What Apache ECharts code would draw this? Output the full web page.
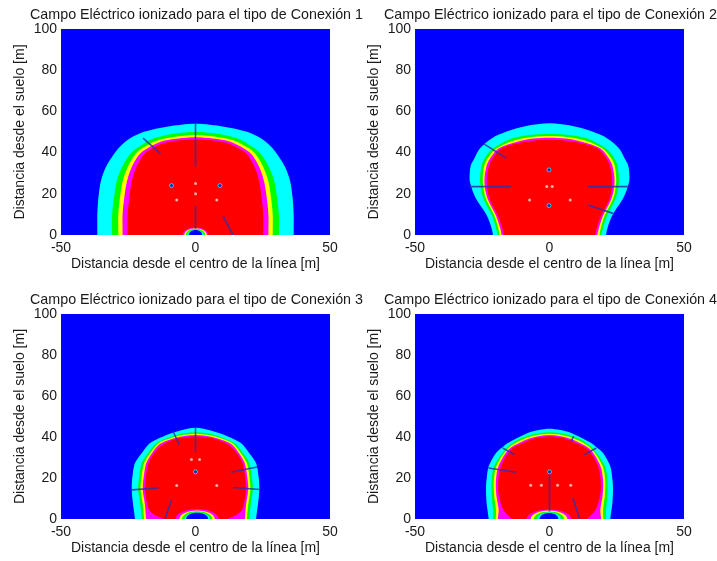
<!DOCTYPE html>
<html><head><meta charset="utf-8">
<script src="https://cdn.jsdelivr.net/npm/echarts@6/dist/echarts.min.js"></script>
<style>html,body{margin:0;padding:0;background:#fff}#c{width:717px;height:561px}</style>
</head><body><div id="c"></div>
<script>
// ---------------- data ----------------
const titles = [
  'Campo Eléctrico ionizado para el tipo de Conexión 1',
  'Campo Eléctrico ionizado para el tipo de Conexión 2',
  'Campo Eléctrico ionizado para el tipo de Conexión 3',
  'Campo Eléctrico ionizado para el tipo de Conexión 4'
];
const xName = 'Distancia desde el centro de la línea [m]';
const yName = 'Distancia desde el suelo [m]';
const xRange = [-50, 50];
const yRange = [0, 100];

// band colours (outer to inner) and hole-ring colours (outer to inner)
const bandColors = ['#00FFFF', '#00FF00', '#FFFF00', '#FF00FF', '#FF0000'];
const holeColors = ['#FF00FF', '#FFFF00', '#00FF00', '#00FFFF', '#0000FF'];

// left-half outer boundaries [x, y] of each band, bottom to top (mirrored)
const p1Cyan    = [[-36.5,0],[-36.5,10],[-36.1,18],[-35.2,26],[-33.3,33],[-30.5,39],[-28,43],[-24.3,47],[-18.8,50.2],[-10.7,52.6],[0,54]];
const p1Green   = [[-31,0],[-31,10],[-30.3,18],[-29.3,26],[-27.3,33],[-24.5,39],[-21.5,42.5],[-15.7,46.9],[-8,49.2],[0,50]];
const p1Yellow  = [[-28.7,0],[-28.7,10],[-28.1,18],[-27.1,26],[-25.2,33],[-22.5,39],[-19.7,42.2],[-14,46],[-7,47.8],[0,48.5]];
const p1Magenta = [[-27.1,0],[-27.1,10],[-26.5,18],[-25.5,26],[-23.7,33],[-21,39],[-18.3,41.8],[-13,45.3],[-6.5,46.8],[0,47.4]];
const p1Red     = [[-25.2,0],[-25.2,10],[-24.6,18],[-23.7,26],[-22,33],[-19.3,39],[-16.8,41.5],[-12,44.5],[-6,46],[0,46.4]];

const p2Cyan    = [[-21,0],[-21.7,4],[-23.4,9.7],[-27.4,17.8],[-29.6,25.9],[-29.6,31],[-29.2,34],[-28.2,36.5],[-25.8,42.1],[-21.5,46.9],[-15.9,50.2],[-9,52.8],[0,54.2]];
const p2Green   = [[-19.3,0],[-20,4],[-21.5,9.7],[-24.6,17.8],[-25.8,25.9],[-25.2,34],[-23.5,38.5],[-20.9,42.1],[-14.1,46.9],[-7,48.6],[0,49]];
const p2Yellow  = [[-18.6,0],[-19.2,4],[-20.6,9.7],[-23.7,17.8],[-24.8,25.9],[-24.2,34],[-22.3,38.5],[-19.6,42.1],[-13,46],[-6.5,47.6],[0,48]];
const p2Magenta = [[-17.8,0],[-18.5,4],[-20,9.7],[-23.1,17.8],[-24.2,25.9],[-23.3,34],[-21.4,38.5],[-18.8,42.1],[-12,45.3],[-6,46.8],[0,47.2]];
const p2Red     = [[-17,0],[-17.7,4],[-19.3,9.7],[-22.4,17.8],[-23.3,25.9],[-22.4,34],[-20.5,38.5],[-17.8,42.1],[-11,44.8],[-5.5,45.9],[0,46.2]];

const p3Cyan    = [[-22.5,0],[-23.3,8],[-23.7,14.3],[-23.5,20],[-22.5,27.3],[-19.8,32.5],[-16.9,37.1],[-12,40.3],[-6,43],[0,44.5]];
const p3Green   = [[-20,0],[-20.5,7],[-21.3,14.3],[-21,20],[-20,27.3],[-17.5,32.5],[-14.4,37.1],[-7,41],[0,42.3]];
const p3Yellow  = [[-19.1,0],[-19.6,7],[-20.4,14.3],[-20.1,20],[-19.1,27.3],[-16.7,32.5],[-13.6,37.1],[-6.5,40.5],[0,41.6]];
const p3Magenta = [[-18.4,0],[-18.8,7],[-19.6,14.3],[-19.3,20],[-18.3,27.3],[-16,32.5],[-13,36.8],[-6.2,40],[0,41]];
const p3Red     = [[-12,0],[-15,1.8],[-17.2,4.3],[-18.1,8],[-18.8,14.3],[-18.5,20],[-17.5,27.3],[-15.2,32.5],[-12,36.5],[-6,39.5],[0,40.3]];

const p4Cyan    = [[-22.6,0],[-23.4,8],[-23.6,15],[-23.4,19.2],[-22.6,25.7],[-19.9,32.2],[-17.5,35],[-15.5,37.1],[-8.1,42],[-4,43.4],[0,44]];
const p4Green   = [[-21,0],[-21,4.5],[-21.5,12],[-21.5,19.2],[-20.5,26],[-16.5,33.8],[-12,38.5],[-6,41.3],[0,42.3]];
const p4Yellow  = [[-20,0],[-19.9,4.5],[-20.6,12],[-20.7,19.2],[-19.7,26],[-15.9,33.8],[-11.3,38],[-5.5,40.7],[0,41.6]];
const p4Magenta = [[-19.2,0],[-18.9,4.5],[-19.8,12],[-19.9,19.2],[-18.9,26],[-15.3,33.8],[-10.7,37.5],[-5.2,40.1],[0,41]];
const p4Red     = [[-14,0],[-15.5,2],[-17.2,4.5],[-18.9,12],[-19,19.2],[-18,26],[-14.4,33.8],[-10,37],[-5,39.5],[0,40.3]];

// low-field hole at the base of the tower: centre x, rings [halfWidth, height]
const p1HoleX = 0,   p1HoleRings = [[4.8,3.6],[4.2,3.3],[3.6,3.0],[3.0,2.7],[2.5,2.4]];
const p2HoleX = 0,   p2HoleRings = [];
const p3HoleX = 0.6, p3HoleRings = [[8.0,4.9],[6.6,4.2],[5.6,3.8],[4.7,3.3],[4.1,3.0]];
const p4HoleX = -0.2,p4HoleRings = [[8.3,4.6],[6.8,4.1],[5.6,3.7],[4.4,3.3],[3.5,2.9]];

// thin dark streaks [x1, y1, x2, y2]
const p1Streaks = [[0,54,0,33],[0,14,0,3],[-19.5,47,-13,39.5],[10.3,9,14,0]];
const p2Streaks = [[-29.8,23.5,-14.3,23.5],[14.3,23.5,29.8,23.5],[-24.4,44.2,-16.1,37.3],[14.3,14.6,23.6,10.5]];
const p3Streaks = [[0,44.5,0,32.5],[-23.7,14.2,-13.8,15.1],[14,15.4,24,14.4],[13.2,22.8,22.9,25.4],[-8.4,42.8,-6,36.3],[-8.9,9.4,-11.3,0]];
const p4Streaks = [[0,23,0,3.7],[8.7,10.2,11.2,0],[-17.4,34.6,-13,31.4],[-22.7,24.9,-12.4,22.8],[13,31.4,17.4,34.6],[8.1,37.9,9,40.5]];

// conductor marks
const p1Dots  = [[-7,17],[7.9,17],[0,20],[0,25]];
const p2Dots  = [[-7.4,17],[7.7,17],[-1,23.5],[1,23.5]];
const p3Dots  = [[-7,16.4],[7.9,16.4],[-1.5,29],[1.5,29]];
const p4Dots  = [[-7,16.5],[7.9,16.5],[-3,16.5],[3,16.5]];
const p1Blobs = [[-8.9,24],[9.1,24]];
const p2Blobs = [[-0.2,31.6],[-0.2,14.3]];
const p3Blobs = [[0,23]];
const p4Blobs = [[0,23]];

// ---------------- layout ----------------
const grids = [
  {left: 61,  top: 29,  width: 269, height: 206},
  {left: 415, top: 29,  width: 269, height: 206},
  {left: 61,  top: 314, width: 269, height: 205},
  {left: 415, top: 314, width: 269, height: 205}
];
const titleShift = [-4, -4, -4, -4];
const plots = [
  {bands:[p1Cyan,p1Green,p1Yellow,p1Magenta,p1Red], hx:p1HoleX, rings:p1HoleRings, streaks:p1Streaks, dots:p1Dots, blobs:p1Blobs},
  {bands:[p2Cyan,p2Green,p2Yellow,p2Magenta,p2Red], hx:p2HoleX, rings:p2HoleRings, streaks:p2Streaks, dots:p2Dots, blobs:p2Blobs},
  {bands:[p3Cyan,p3Green,p3Yellow,p3Magenta,p3Red], hx:p3HoleX, rings:p3HoleRings, streaks:p3Streaks, dots:p3Dots, blobs:p3Blobs},
  {bands:[p4Cyan,p4Green,p4Yellow,p4Magenta,p4Red], hx:p4HoleX, rings:p4HoleRings, streaks:p4Streaks, dots:p4Dots, blobs:p4Blobs}
];

const FONT = 'Liberation Sans, Arial, sans-serif';
const TXT = '#1a1a1a';

function mirror(pts) {
  const left = pts;
  const right = pts.slice(0, -1).reverse().map(p => [-p[0], p[1]]);
  return [[left[0][0], -2]].concat(left, right, [[-left[0][0], -2]]);
}

const option = {
  animation: false,
  backgroundColor: '#ffffff',
  title: titles.map((t, i) => ({
    text: t,
    left: grids[i].left + grids[i].width / 2 + titleShift[i],
    top: grids[i].top - 26,
    textAlign: 'center',
    textStyle: {fontFamily: FONT, fontSize: 14.3, fontWeight: 'normal', color: TXT}
  })),
  grid: grids.map(g => Object.assign({show: true, backgroundColor: '#0000FF', borderWidth: 0}, g)),
  xAxis: grids.map((g, i) => ({
    type: 'value', gridIndex: i, min: xRange[0], max: xRange[1], interval: 50,
    name: xName, nameLocation: 'middle', nameGap: 22,
    nameTextStyle: {fontFamily: FONT, fontSize: 14, color: TXT},
    axisLine: {show: false}, axisTick: {show: false}, splitLine: {show: false},
    axisLabel: {fontFamily: FONT, fontSize: 14, color: TXT, margin: 6}
  })),
  yAxis: grids.map((g, i) => ({
    type: 'value', gridIndex: i, min: yRange[0], max: yRange[1], interval: 20,
    name: yName, nameLocation: 'middle', nameGap: 34,
    nameTextStyle: {fontFamily: FONT, fontSize: 14, color: TXT},
    axisLine: {show: false}, axisTick: {show: false}, splitLine: {show: false},
    axisLabel: {fontFamily: FONT, fontSize: 14, color: TXT, margin: 4}
  })),
  series: []
};

plots.forEach((pl, i) => {
  option.series.push({
    type: 'custom', xAxisIndex: i, yAxisIndex: i, clip: true, silent: true,
    data: pl.bands.map(b => b[0]),
    renderItem: (params, api) => {
      const pts = mirror(pl.bands[params.dataIndex]).map(p => api.coord(p));
      return {type: 'polygon', shape: {points: pts, smooth: 0.3},
              style: {fill: bandColors[params.dataIndex], stroke: null}};
    }
  });
  option.series.push({
    type: 'custom', xAxisIndex: i, yAxisIndex: i, clip: true, silent: true,
    data: pl.rings.map(r => [pl.hx, 0, r[0], r[1]]),
    encode: {x: 0, y: 1},
    renderItem: (params, api) => {
      const c = api.coord([api.value(0), api.value(1)]);
      const s = api.size([api.value(2), api.value(3)]);
      return {type: 'ellipse', shape: {cx: c[0], cy: c[1], rx: s[0], ry: s[1]},
              style: {fill: holeColors[params.dataIndex]}};
    }
  });
  option.series.push({
    type: 'custom', xAxisIndex: i, yAxisIndex: i, clip: true, silent: true,
    data: pl.streaks,
    encode: {x: [0, 2], y: [1, 3]},
    renderItem: (params, api) => {
      const a = api.coord([api.value(0), api.value(1)]);
      const b = api.coord([api.value(2), api.value(3)]);
      return {type: 'line', shape: {x1: a[0], y1: a[1], x2: b[0], y2: b[1]},
              style: {stroke: '#3030a8', lineWidth: 1.6, opacity: 0.85}};
    }
  });
  option.series.push({
    type: 'scatter', xAxisIndex: i, yAxisIndex: i, silent: true,
    data: pl.blobs, symbolSize: 4,
    itemStyle: {color: '#1020d0', borderColor: '#30e0ff', borderWidth: 1}
  });
  option.series.push({
    type: 'scatter', xAxisIndex: i, yAxisIndex: i, silent: true,
    data: pl.dots, symbolSize: 3,
    itemStyle: {color: '#ffd8c8'}
  });
});

const chart = echarts.init(document.getElementById('c'), null, {renderer: 'canvas'});
chart.setOption(option);
</script>
</body></html>
